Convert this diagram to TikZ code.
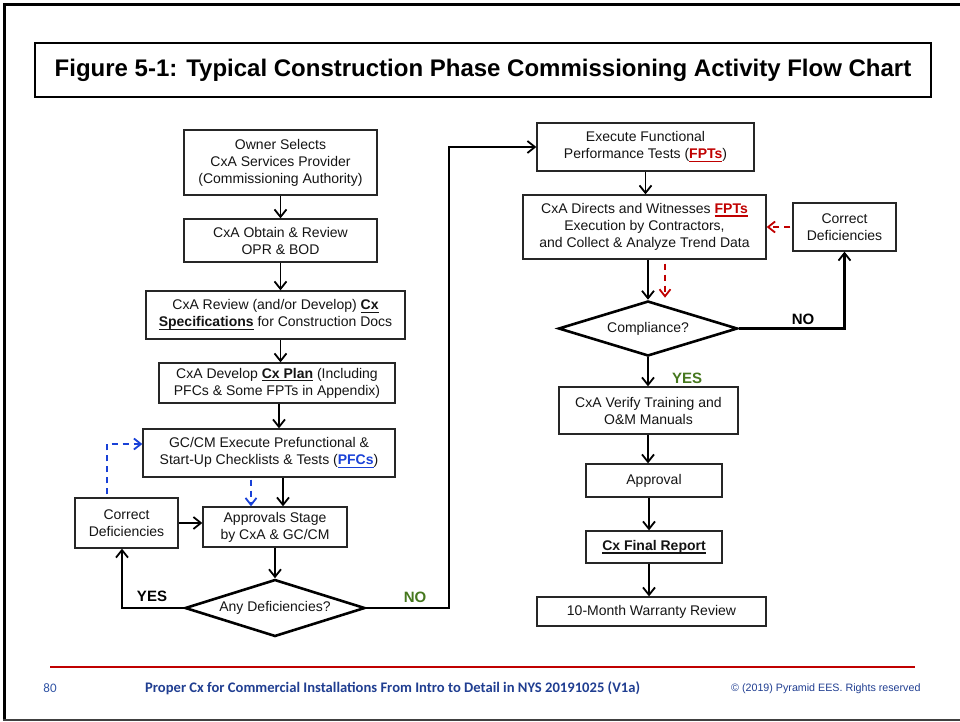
\documentclass[tikz,border=0pt]{standalone}
\usepackage{fontspec}
\setmainfont{Liberation Sans}
\newfontfamily\calibfont{Carlito}
\usetikzlibrary{arrows.meta,shapes.geometric,calc}
\definecolor{fptred}{RGB}{192,0,0}
\definecolor{pfcblue}{RGB}{25,65,215}
\definecolor{yesgreen}{RGB}{70,120,30}
\definecolor{footnavy}{RGB}{32,62,145}
\definecolor{footblue}{RGB}{50,85,165}
\newsavebox\ulbox
% thick underline of fixed depth
\newcommand\undl[1]{\sbox\ulbox{#1}\rlap{\rule[-3.2pt]{\wd\ulbox}{1.4pt}}\usebox\ulbox}

\begin{document}
\begin{tikzpicture}[x=1pt,y=-1pt,
  box/.style={draw=black!85, line width=1.3pt, inner sep=0pt, align=center,
    font=\fontsize{14}{17}\selectfont, text=black!92},
  dec/.style={draw=black, line width=2.6pt, shape=diamond, aspect=3.15, inner sep=0pt,
    font=\fontsize{14}{17}\selectfont, text=black!92},
  conn/.style={line width=1.8pt, -{Straight Barb[length=7.5pt,width=12pt]}},
  branch/.style={line width=2.8pt, -{Straight Barb[length=7.5pt,width=12pt,line width=1.8pt]}},
  dashblue/.style={pfcblue, line width=1.8pt, dash pattern=on 6pt off 5pt, -{Straight Barb[length=7pt,width=11pt]}},
  dashred/.style={fptred, line width=1.8pt, dash pattern=on 6pt off 5pt, -{Straight Barb[length=7pt,width=11pt]}},
  answer/.style={font=\fontsize{15}{17}\selectfont\bfseries, inner sep=0pt},
]
\useasboundingbox (0,0) rectangle (960,721);

% page frame
\draw[black, line width=3pt] (960,4) -- (4.5,4) -- (4.5,719.5);
\draw[black!75, line width=2pt] (3,719.5) -- (960,719.5);

% heading
\node[draw=black, line width=2pt, minimum width=896, minimum height=54, inner sep=0pt,
  font=\fontsize{24}{28}\selectfont\bfseries] (title) at (483,70)
  {Figure 5-1: Typical Construction Phase Commissioning Activity Flow Chart};

% left column
\node[box, minimum width=193, minimum height=65] (b1) at (280.5,162.5)
  {Owner Selects\\CxA Services Provider\\(Commissioning Authority)};
\node[box, minimum width=193, minimum height=43] (b2) at (280.5,240.5)
  {CxA Obtain \& Review\\OPR \& BOD};
\node[box, minimum width=259, minimum height=48] (b3) at (275.5,315)
  {CxA Review (and/or Develop) \undl{\textbf{Cx}}\\\undl{\textbf{Specifications}} for Construction Docs};
\node[box, minimum width=236, minimum height=40] (b4) at (277,383)
  {CxA Develop \undl{\textbf{Cx Plan}} (Including\\PFCs \& Some FPTs in Appendix)};
\node[box, minimum width=252, minimum height=48] (b5) at (269,453)
  {GC/CM Execute Prefunctional \&\\Start-Up Checklists \& Tests (\textcolor{pfcblue}{\undl{\textbf{PFCs}}})};
\node[box, minimum width=103, minimum height=50] (cd1) at (126.5,523)
  {Correct\\Deficiencies};
\node[box, minimum width=144, minimum height=40] (appr) at (275,527)
  {Approvals Stage\\by CxA \& GC/CM};
\node[dec, minimum width=180, minimum height=57] (d1) at (275,608)
  {Any Deficiencies?};

% right column
\node[box, minimum width=217, minimum height=48] (r1) at (645.5,147)
  {Execute Functional\\Performance Tests (\textcolor{fptred}{\undl{\textbf{FPTs}}})};
\node[box, minimum width=243, minimum height=64] (r2) at (644.5,227)
  {CxA Directs and Witnesses \textcolor{fptred}{\undl{\textbf{FPTs}}}\\Execution by Contractors,\\and Collect \& Analyze Trend Data};
\node[box, minimum width=103, minimum height=48] (r3) at (844.5,227)
  {Correct\\Deficiencies};
\node[dec, minimum width=179, minimum height=55] (d2) at (648,328.5)
  {Compliance?};
\node[box, minimum width=179, minimum height=47] (r4) at (648.5,410.5)
  {CxA Verify Training and\\O\&M Manuals};
\node[box, minimum width=136, minimum height=33] (r5) at (654,480.5)
  {Approval};
\node[box, minimum width=136, minimum height=32] (r6) at (654,547)
  {\undl{\textbf{Cx Final Report}}};
\node[box, minimum width=229, minimum height=29] (r7) at (651.5,611.5)
  {10-Month Warranty Review};

% connectors, left column
\draw[conn] (b1.south) -- (b2.north);
\draw[conn] (b2.south) -- (b2.south |- b3.north);
\draw[conn] (b2.south |- b3.south) -- (b2.south |- b4.north);
\draw[conn] ([xshift=-1.5pt]b2.south |- b4.south) -- ([xshift=-1.5pt]b2.south |- b5.north);
\draw[conn] ([xshift=14pt]b5.south) -- ([xshift=14pt]b5.south |- appr.north);
\draw[dashblue] ([xshift=-18pt,yshift=-2pt]b5.south) -- ([xshift=-18pt]b5.south |- appr.north);
\draw[conn] (appr.south) -- (d1.north);
\draw[conn] (cd1.east) -- (cd1.east -| appr.west);
\draw[dashblue] ([xshift=-19.5pt,yshift=3pt]cd1.north) |- ([yshift=9pt]b5.west);
\draw[branch] (d1.west) -| ([xshift=-4.5pt]cd1.south);
\coordinate (nojog) at (449,147);
\draw[branch] (d1.east) -| (nojog) -- (r1.west);

% connectors, right column
\draw[conn] (r1.south) -- (r1.south |- r2.north);
\draw[dashred] ([xshift=-2pt]r3.west) -- (r2.east);
\draw[conn] (d2.north |- r2.south) -- (d2.north);
\draw[dashred] ([xshift=17pt,yshift=-4pt]d2.north |- r2.south) -- ([xshift=17pt,yshift=2pt]d2.north);
\draw[branch] (d2.east) -| (r3.south);
\draw[conn] (d2.south) -- (d2.south |- r4.north);
\draw[conn] (d2.south |- r4.south) -- (d2.south |- r5.north);
\draw[conn] ([xshift=1pt]d2.south |- r5.south) -- ([xshift=1pt]d2.south |- r6.north);
\draw[conn] ([xshift=1pt]d2.south |- r6.south) -- ([xshift=1pt]d2.south |- r7.north);

% decision labels
\node[answer] (lyes1) at (152,596) {YES};
\node[answer, text=yesgreen] (lno1) at (415,597) {NO};
\node[answer] (lno2) at (803,319) {NO};
\node[answer, text=yesgreen] (lyes2) at (687,378) {YES};

% footer
\coordinate (rulel) at (50,667);
\coordinate (ruler) at (915,667);
\draw[fptred, line width=2pt] (rulel) -- (ruler);
\node[inner sep=0pt, text=footblue, font=\calibfont\fontsize{13}{15}\selectfont] (pageno) at (50,688) {80};
\node[inner sep=0pt, anchor=west, text=footnavy, font=\calibfont\fontsize{14.6}{16}\selectfont\bfseries] (ftitle) at (145,688)
  {Proper Cx for Commercial Installations From Intro to Detail in NYS 20191025 (V1a)};
\node[inner sep=0pt, anchor=west, text=footnavy, font=\fontsize{10.7}{12}\selectfont] (fcopy) at (731,689)
  {\char"00A9{} (2019) Pyramid EES. Rights reserved};
\end{tikzpicture}
\end{document}
